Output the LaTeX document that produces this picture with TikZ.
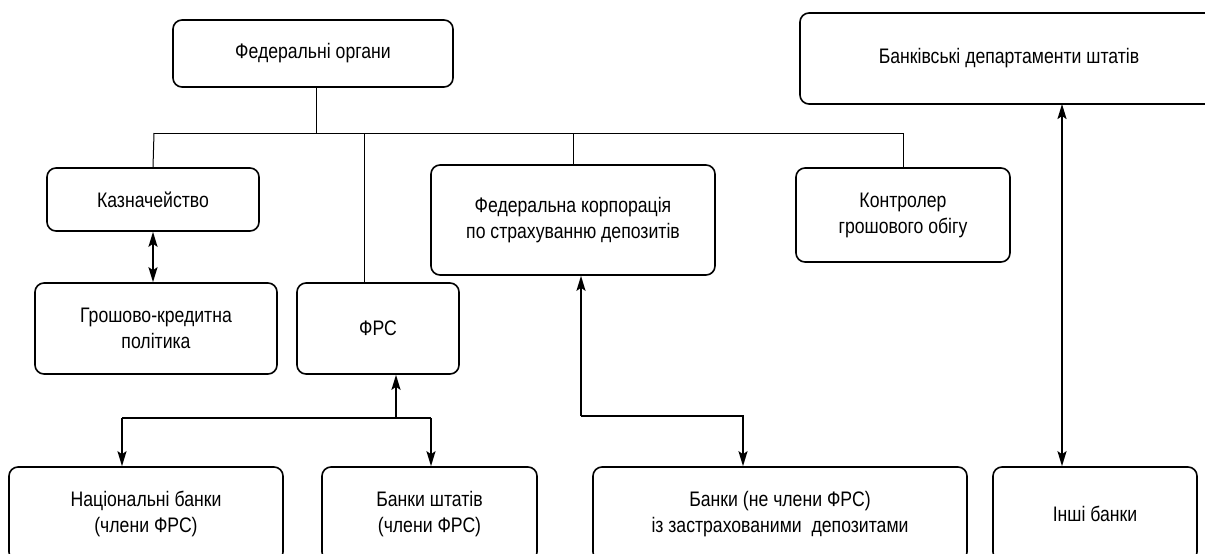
\documentclass[tikz,border=0pt]{standalone}
\usepackage{fontspec}
\setmainfont{Liberation Sans}[FakeStretch=0.84]
\usetikzlibrary{arrows.meta,calc}
\begin{document}
\begin{tikzpicture}[x=1pt,y=-1pt,
  box/.style={draw, line width=1.6pt, rounded corners=9pt, align=center,
    inner sep=0pt, font=\fontsize{21}{26}\selectfont},
  tree/.style={line width=1pt},
  arr/.style={line width=2pt, -{Stealth[length=15pt,width=9pt,inset=3pt]}},
  darr/.style={line width=2pt, {Stealth[length=15pt,width=9pt,inset=3pt]}-{Stealth[length=15pt,width=9pt,inset=3pt]}}]
\useasboundingbox (0,0) rectangle (1205,554);
\node[box, minimum width=280pt, minimum height=67pt] (fed) at (313,53.5) {Федеральні органи};
\node[box, minimum width=418pt, minimum height=91pt] (dept) at (1009,58.5) {Банківські департаменти штатів};
\node[box, minimum width=212pt, minimum height=63pt] (kazn) at (153,199.5) {Казначейство};
\node[box, minimum width=284pt, minimum height=110pt] (fdic) at (573,220) {Федеральна корпорація\\по страхуванню депозитів};
\node[box, minimum width=214pt, minimum height=94pt] (kontr) at (903,215) {Контролер\\грошового обігу};
\node[box, minimum width=242pt, minimum height=91pt] (grosh) at (156,328.5) {Грошово-кредитна\\політика};
\node[box, minimum width=162pt, minimum height=91pt] (frs) at (378,328.5) {ФРС};
\node[box, minimum width=274pt, minimum height=94pt] (nat) at (146,514) {Національні банки\\(члени ФРС)};
\node[box, minimum width=215pt, minimum height=94pt] (sht) at (429.5,514) {Банки штатів\\(члени ФРС)};
\node[box, minimum width=374pt, minimum height=94pt] (nechl) at (780,514) {Банки (не члени ФРС)\\із застрахованими\ \ депозитами};
\node[box, minimum width=204pt, minimum height=94pt] (inshi) at (1095,514) {Інші банки};
% tree
\coordinate (busL) at (154,133);
\coordinate (busR) at (903,133);
\coordinate (fedd) at (316,87);
\coordinate (frsd) at (364,283);
\draw[tree] (fedd) -- (fedd |- busL);
\draw[tree] (busL) -- (busR);
\draw[tree] (busL) -- (kazn.north);
\draw[tree] (frsd |- busL) -- (frsd);
\draw[tree] (fdic.north |- busL) -- (fdic.north);
\draw[tree] (busR) -- (kontr.north);
% arrows
\draw[darr] (kazn.south) -- (kazn.south |- grosh.north);
\coordinate (frsj) at (396,418);
\coordinate (natj) at (122,418);
\coordinate (shtj) at (431,418);
\draw[arr] (frsj) -- (frsj |- frs.south);
\draw[line width=2pt] (natj) -- (shtj);
\draw[arr] (natj) -- (natj |- nat.north);
\draw[arr] (shtj) -- (shtj |- sht.north);
\coordinate (fdj1) at (581,416);
\coordinate (fdj2) at (743,416);
\draw[arr] (fdj1) -- (fdj1 |- fdic.south);
\draw[arr] (fdj1) -- (fdj2) -- (fdj2 |- nechl.north);
\coordinate (dj) at (1062,104);
\draw[darr] (dj) -- (dj |- inshi.north);
\end{tikzpicture}
\end{document}
